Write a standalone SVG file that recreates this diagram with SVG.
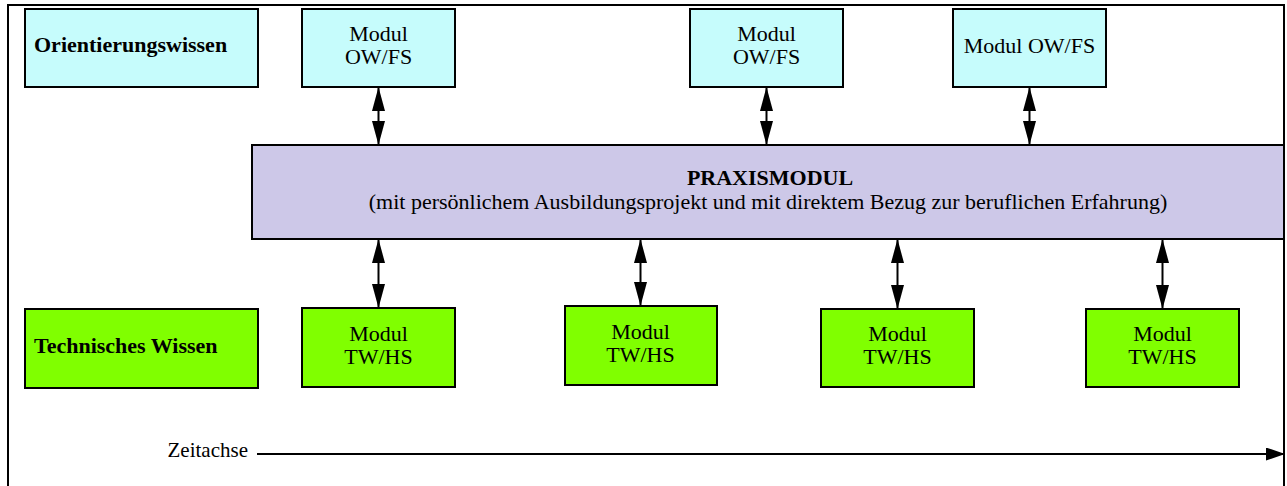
<svg xmlns="http://www.w3.org/2000/svg" width="1287" height="486" viewBox="0 0 1287 486">
<style>
  .ow { fill: #c6fcfc; stroke: #000; stroke-width: 2; }
  .tw { fill: #80ff00; stroke: #000; stroke-width: 2; }
  .px { fill: #cdc8e8; stroke: #000; stroke-width: 2; }
  text { font-family: "Liberation Serif", "Times New Roman", serif; font-size: 22px; fill: #000; }
  .c { text-anchor: middle; }
  .b { font-weight: bold; }
  .con { stroke: #000; stroke-width: 2; fill: none; }
</style>
<defs>
  <marker id="ah" markerUnits="userSpaceOnUse" markerWidth="24" markerHeight="13" refX="24" refY="6.5" orient="auto-start-reverse" viewBox="0 0 24 13">
    <path d="M0,0 L24,6.5 L0,13 z" fill="#000"/>
  </marker>
  <marker id="ah2" markerUnits="userSpaceOnUse" markerWidth="19" markerHeight="13" refX="19" refY="6.5" orient="auto" viewBox="0 0 19 13">
    <path d="M0,0 L19,6.5 L0,13 z" fill="#000"/>
  </marker>
</defs>
<rect x="8" y="5" width="1276" height="520" fill="#fff" stroke="#000" stroke-width="2"/>

<g id="orientierungswissen">
  <rect class="ow" x="25" y="9" width="233" height="78"/>
  <text class="b" x="34" y="52">Orientierungswissen</text>
</g>
<g id="ow1">
  <rect class="ow" x="302" y="9" width="153" height="78"/>
  <text class="c" x="378.5" y="41">Modul</text>
  <text class="c" x="378.5" y="64">OW/FS</text>
</g>
<g id="ow2">
  <rect class="ow" x="690" y="9" width="153" height="78"/>
  <text class="c" x="766.5" y="41">Modul</text>
  <text class="c" x="766.5" y="64">OW/FS</text>
</g>
<g id="ow3">
  <rect class="ow" x="953" y="9" width="153" height="78"/>
  <text class="c" x="1029.5" y="53">Modul OW/FS</text>
</g>

<g id="praxismodul">
  <rect class="px" x="252" y="145" width="1032" height="94"/>
  <text class="c b" x="770" y="185">PRAXISMODUL</text>
  <text class="c" x="768" y="209">(mit persönlichem Ausbildungsprojekt und mit direktem Bezug zur beruflichen Erfahrung)</text>
</g>

<g id="technisches-wissen">
  <rect class="tw" x="25" y="309" width="233" height="79"/>
  <text class="b" x="34" y="353">Technisches Wissen</text>
</g>
<g id="tw1">
  <rect class="tw" x="302" y="308" width="153" height="79"/>
  <text class="c" x="378.5" y="340.5">Modul</text>
  <text class="c" x="378.5" y="363.5">TW/HS</text>
</g>
<g id="tw2">
  <rect class="tw" x="565" y="306" width="152" height="79"/>
  <text class="c" x="640.5" y="338.5">Modul</text>
  <text class="c" x="640.5" y="361.5">TW/HS</text>
</g>
<g id="tw3">
  <rect class="tw" x="821" y="309" width="153" height="78"/>
  <text class="c" x="897.5" y="341">Modul</text>
  <text class="c" x="897.5" y="364">TW/HS</text>
</g>
<g id="tw4">
  <rect class="tw" x="1086" y="309" width="153" height="78"/>
  <text class="c" x="1162.5" y="341">Modul</text>
  <text class="c" x="1162.5" y="364">TW/HS</text>
</g>

<g id="zeitachse-label">
  <text x="248" y="457" style="text-anchor:end; font-size:21px">Zeitachse</text>
</g>

<g id="connectors">
  <line class="con" x1="378.5" y1="87" x2="378.5" y2="145" marker-start="url(#ah)" marker-end="url(#ah)"/>
  <line class="con" x1="766.5" y1="87" x2="766.5" y2="145" marker-start="url(#ah)" marker-end="url(#ah)"/>
  <line class="con" x1="1029.5" y1="87" x2="1029.5" y2="145" marker-start="url(#ah)" marker-end="url(#ah)"/>
  <line class="con" x1="378.5" y1="239" x2="378.5" y2="308" marker-start="url(#ah)" marker-end="url(#ah)"/>
  <line class="con" x1="640.5" y1="239" x2="640.5" y2="306" marker-start="url(#ah)" marker-end="url(#ah)"/>
  <line class="con" x1="897.5" y1="239" x2="897.5" y2="309" marker-start="url(#ah)" marker-end="url(#ah)"/>
  <line class="con" x1="1162.5" y1="239" x2="1162.5" y2="309" marker-start="url(#ah)" marker-end="url(#ah)"/>
  <line class="con" x1="257" y1="454" x2="1285" y2="454" marker-end="url(#ah2)"/>
</g>
</svg>
